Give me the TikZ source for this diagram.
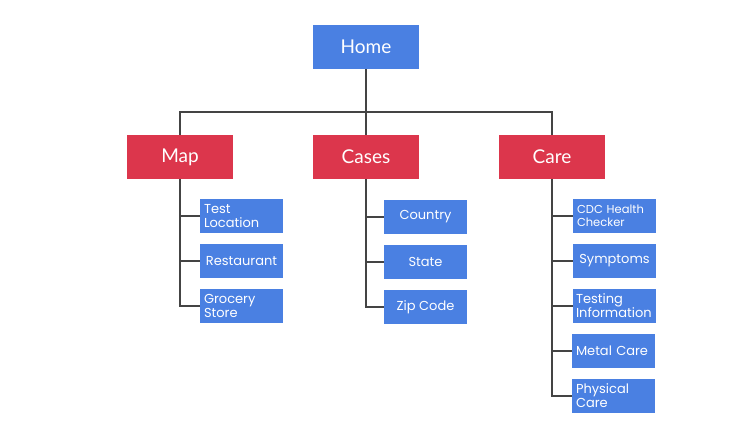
\documentclass[tikz,border=0pt]{standalone}
\usepackage{fontspec}
\setmainfont{Lato}
\newfontfamily\subfont{Poppins}
\definecolor{boxblue}{HTML}{4A80E2}
\definecolor{boxred}{HTML}{DC364C}
\definecolor{linegray}{HTML}{444444}
\begin{document}
\begin{tikzpicture}[x=1pt,y=-1pt,
  topbox/.style={fill=boxblue,text=white,minimum width=106pt,minimum height=44pt,inner sep=0pt,font=\fontsize{19}{22}\selectfont},
  catbox/.style={fill=boxred,text=white,minimum width=106pt,minimum height=44pt,inner sep=0pt,font=\fontsize{19}{22}\selectfont},
  subbox/.style={fill=boxblue,text=white,minimum width=83pt,minimum height=34pt,inner sep=0pt,font=\subfont\fontsize{13}{14}\selectfont},
  subleft/.style={subbox,text width=75pt,inner xsep=4pt,align=left},
  conn/.style={draw=linegray,line width=1.1pt}
]
\useasboundingbox (0,0) rectangle (750,446);
\node[topbox] (home) at (366,47) {Home};
\node[catbox] (map) at (180,157) {Map};
\node[catbox] (cases) at (366,157) {Cases};
\node[catbox] (care) at (552,157) {Care};
\coordinate (bus) at (366,112);

\node[subleft] (m1) at (241.5,216) {Test\\Location};
\node[subbox] (m2) at (241.5,261) {Restaurant};
\node[subleft] (m3) at (241.5,306) {Grocery\\Store};

\node[subbox] (c1) at (425.5,217) {Country};
\node[subbox] (c2) at (425.5,262) {State};
\node[subbox] (c3) at (425.5,307) {Zip Code};

\node[subleft,font=\subfont\fontsize{11.5}{13}\selectfont] (k1) at (614.5,216) {CDC Health\\Checker};
\node[subbox] (k2) at (614.5,261) {Symptoms};
\node[subleft,inner xsep=3pt,text width=77pt] (k3) at (614.5,306) {Testing\\Information};
\node[subleft] (k4) at (613.5,351) {Metal Care};
\node[subleft] (k5) at (613.5,396) {Physical\\Care};

\draw[conn] (home.south) -- (cases.north);
\draw[conn] (map.north) |- (bus) -| (care.north);
\foreach \s in {m1,m2,m3} \draw[conn] (map.south) |- (\s.west);
\foreach \s in {c1,c2,c3} \draw[conn] (cases.south) |- (\s.west);
\foreach \s in {k1,k2,k3,k4,k5} \draw[conn] (care.south) |- (\s.west);
\end{tikzpicture}
\end{document}
